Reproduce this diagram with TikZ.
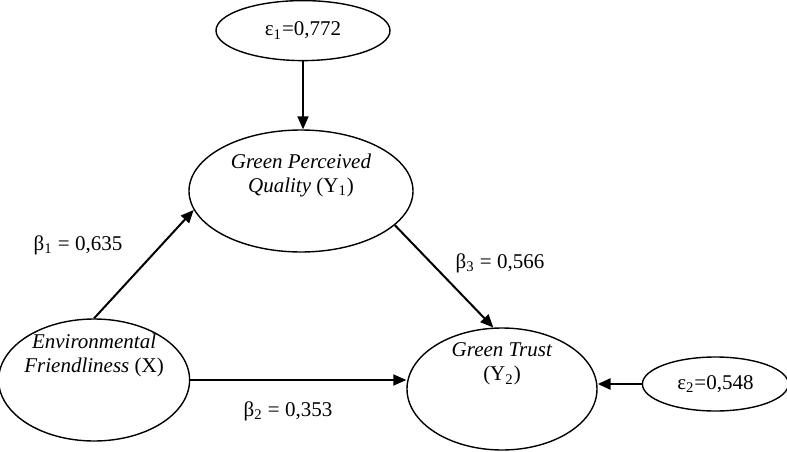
\documentclass[tikz,border=0pt]{standalone}
\usepackage{fontspec}
\setmainfont{Liberation Serif}
\usetikzlibrary{arrows.meta,positioning,shapes.geometric}
\tikzset{
  lat/.style={draw, ellipse, line width=0.7pt, inner sep=0pt, minimum width=95pt, minimum height=61pt},
  err/.style={draw, ellipse, line width=0.7pt, inner sep=0pt, minimum height=27pt, font=\fontsize{10.5}{12}\selectfont},
  inside/.style={align=center, font=\fontsize{10.5}{12}\selectfont},
  arr/.style={-{Triangle[length=6.5pt,width=5.5pt]}, line width=1pt},
  coef/.style={font=\fontsize{10.5}{12}\selectfont}}

\begin{document}
\begin{tikzpicture}[x=1pt, y=1pt, node distance=34pt]
  \useasboundingbox (0,0) rectangle (393.5,225.5);
  % latent variables
  \node[lat, minimum width=112pt, label={[inside, yshift=8pt]center:{\textit{Green Perceived}\\\textit{Quality} (Y\textsubscript{1})}}] (gpq) at (150.5,130) {};
  \node[lat, label={[inside, yshift=12.5pt]center:{\textit{Green Trust}\\(Y\textsubscript{2})}}] (y2) at (251,31) {};
  \node[lat, left=108pt of y2, yshift=4.5pt, minimum width=95.5pt, label={[inside, yshift=12.5pt]center:{\textit{Environmental}\\\textit{Friendliness} (X)}}] (x) {};
  % error terms
  \node[err, above=of gpq, xshift=1pt, minimum width=87pt, minimum height=30pt] (eps1) {ε\textsubscript{1}=0,772};
  \node[err, right=22pt of y2, yshift=2.5pt, minimum width=73pt] (eps2) {ε\textsubscript{2}=0,548};
  % paths
  \draw[arr] (eps1.south) -- (eps1.south |- gpq.north);
  \draw[arr] (x.north) -- (gpq.190);
  \draw[arr] (gpq.-20) -- (y2.98);
  \draw[arr] (x.east) -- (x.east -| y2.west);
  \draw[arr, line width=1.4pt] (eps2.west) -- (eps2.west -| y2.east);
  \node[coef] (b1) at (39,103) {β\textsubscript{1} = 0,635};
  \node[coef] (b3) at (250,94) {β\textsubscript{3} = 0,566};
  \node[coef] (b2) at (144,20) {β\textsubscript{2} = 0,353};
\end{tikzpicture}
\end{document}
